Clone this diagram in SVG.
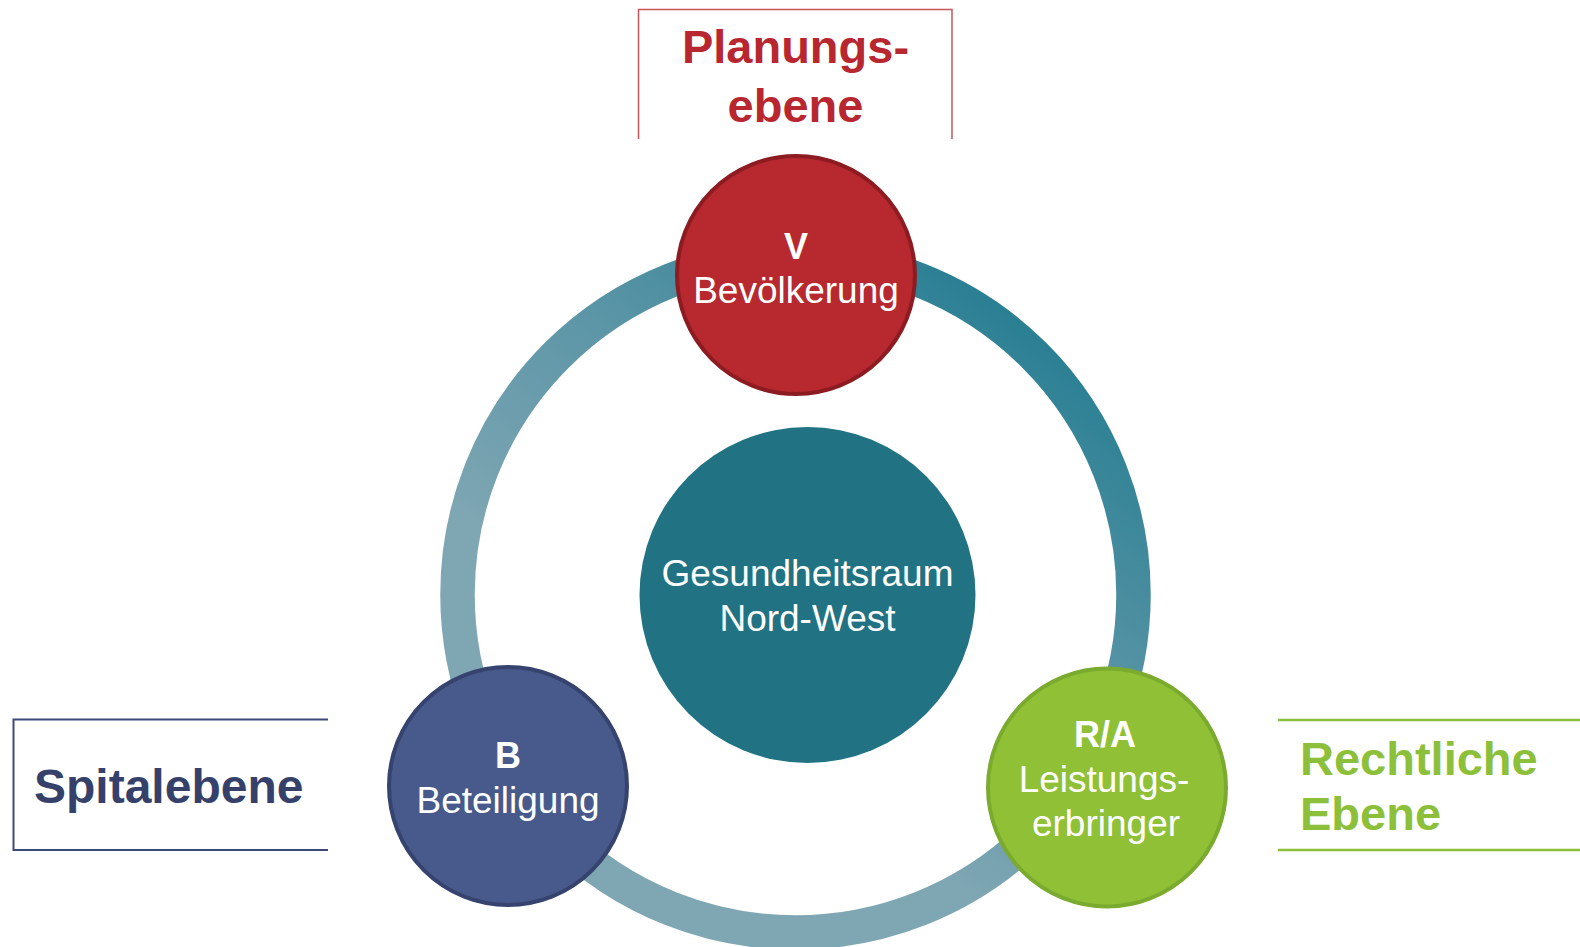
<svg xmlns="http://www.w3.org/2000/svg" width="1580" height="947" viewBox="0 0 1580 947">
  <style>
    .lbl { font-family: "Liberation Sans", Arial, sans-serif; font-weight: bold; font-size: 47px; }
    .node-txt { font-family: "Liberation Sans", Arial, sans-serif; fill: #ffffff; font-size: 37px; text-anchor: middle; }
    .node-key { font-weight: bold; font-size: 36px; }
    .frame { fill: none; }
  </style>
  <defs>
    <linearGradient id="ringGrad" gradientUnits="userSpaceOnUse" x1="1000" y1="300" x2="700" y2="700">
      <stop offset="0" stop-color="#2a7f93"/>
      <stop offset="0.5" stop-color="#5a95a6"/>
      <stop offset="1" stop-color="#7fa6b3"/>
    </linearGradient>
  </defs>
  <rect width="1580" height="947" fill="#ffffff"/>

  <!-- level labels with open frames -->
  <g id="label-planung">
    <path class="frame" d="M638.5,139 V9.5 H952 V139" stroke="#c9555a" stroke-width="1.5"/>
    <text class="lbl" x="795.5" y="63" fill="#b8272f" text-anchor="middle">Planungs-</text>
    <text class="lbl" x="795.5" y="121.5" fill="#b8272f" text-anchor="middle">ebene</text>
  </g>
  <g id="label-spital">
    <path class="frame" d="M328,719.5 H13.5 V850 H328" stroke="#3d4a78" stroke-width="2"/>
    <text class="lbl" x="34" y="803" fill="#35416b" style="font-size:48px">Spitalebene</text>
  </g>
  <g id="label-recht">
    <path class="frame" d="M1278,720 H1580 M1278,850 H1580" stroke="#8dc03a" stroke-width="2.5"/>
    <text class="lbl" x="1300" y="775" fill="#8dc03a">Rechtliche</text>
    <text class="lbl" x="1300" y="830" fill="#8dc03a">Ebene</text>
  </g>

  <!-- ring joining the three partners -->
  <g id="connectors">
    <circle cx="795.5" cy="594.5" r="338" fill="none" stroke="url(#ringGrad)" stroke-width="34.5"/>
  </g>

  <g id="node-center">
    <circle cx="807.5" cy="595" r="168" fill="#217282"/>
    <text class="node-txt" x="807.5" y="586">Gesundheitsraum</text>
    <text class="node-txt" x="807.5" y="631">Nord-West</text>
  </g>

  <g id="node-v">
    <circle cx="796" cy="275" r="119" fill="#b8282f" stroke="#8c1c22" stroke-width="4"/>
    <text class="node-txt node-key" x="796" y="259">V</text>
    <text class="node-txt" x="796" y="303">Bevölkerung</text>
  </g>

  <g id="node-b">
    <circle cx="508" cy="786" r="119" fill="#475a8b" stroke="#35436e" stroke-width="4"/>
    <text class="node-txt node-key" x="508" y="768">B</text>
    <text class="node-txt" x="508" y="813">Beteiligung</text>
  </g>

  <g id="node-ra">
    <circle cx="1107" cy="787.5" r="119" fill="#8fc036" stroke="#7aab2e" stroke-width="4"/>
    <text class="node-txt node-key" x="1105" y="747">R/A</text>
    <text class="node-txt" x="1104" y="792">Leistungs-</text>
    <text class="node-txt" x="1106" y="836">erbringer</text>
  </g>
</svg>
